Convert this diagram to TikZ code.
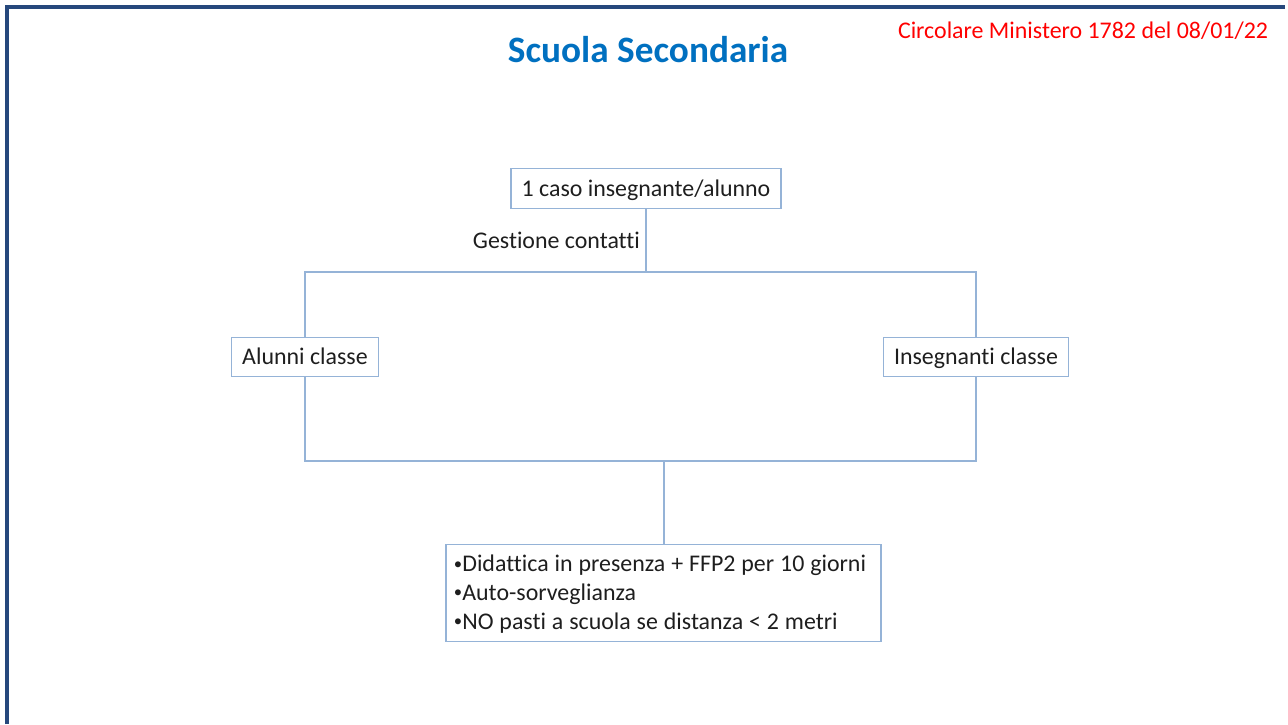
\documentclass[tikz,border=0pt]{standalone}
\usepackage{fontspec}
\setmainfont{Carlito}[Ligatures=NoCommon]
\usetikzlibrary{positioning}
\definecolor{titolo}{RGB}{0,112,192}
\definecolor{rosso}{RGB}{255,0,0}
\definecolor{cornice}{RGB}{38,72,124}
\definecolor{linea}{RGB}{149,179,215}
\definecolor{testo}{RGB}{30,30,30}
\newcommand{\corpo}{\fontsize{17}{20.4}\selectfont}
\newcommand{\punto}{\raisebox{0.12em}{\scalebox{0.7}{•}}}
\newcommand{\stretto}{\spaceskip=4.2pt plus 1pt\relax}

\tikzset{
  box/.style={draw=linea, line width=0.8pt, fill=white, inner xsep=7.5pt,
    text height=13.5pt, text depth=2.5pt, inner ysep=6pt, font=\corpo, text=testo},
  conn/.style={draw=linea, line width=1pt},
}

\begin{document}
\begin{tikzpicture}[x=0.025cm,y=-0.025cm]
      \useasboundingbox (0,0) rectangle (1288,724);
      \draw[cornice, line width=2.2pt] (7,724) -- (7,7) -- (1285,7);
      \node[font=\fontsize{26.5}{30}\selectfont\bfseries, text=titolo] (titolo) at (648,50) {Scuola Secondaria};
      \node[anchor=east, font=\corpo, text=rosso] (circolare) at (1273,31) {Circolare Ministero 1782 del 08/01/22};
      \node[box] (caso) at (646,188.5) {1 caso insegnante/alunno};
      \node[box] (alunni) at (305,357) {Alunni classe};
      \node[box] (insegnanti) at (976,357) {Insegnanti classe};
      \node[box, text height=13.5pt, text depth=, text width=298pt, align=left,
        inner xsep=5.7pt, inner ysep=6pt, minimum height=68pt] (misure) at (663.5,593) {%
        \stretto\mbox{\punto Didattica in presenza + FFP2 per 10 giorni}\\
        \mbox{\punto Auto-sorveglianza}\\
        \mbox{\punto NO pasti a scuola se distanza < 2 metri}};
      \coordinate (ramo) at (646,272);
      \coordinate (unione) at (664,461);
      \node[anchor=east, font=\corpo, text=testo, inner xsep=2pt] (gestione) at (643,240) {Gestione contatti};
      \draw[conn] (caso) -- (ramo);
      \draw[conn] (alunni) |- (ramo) -| (insegnanti);
      \draw[conn] (alunni) |- (unione) -| (insegnanti);
      \draw[conn] (unione) -- (unione |- misure.north);
    \end{tikzpicture}
\end{document}
